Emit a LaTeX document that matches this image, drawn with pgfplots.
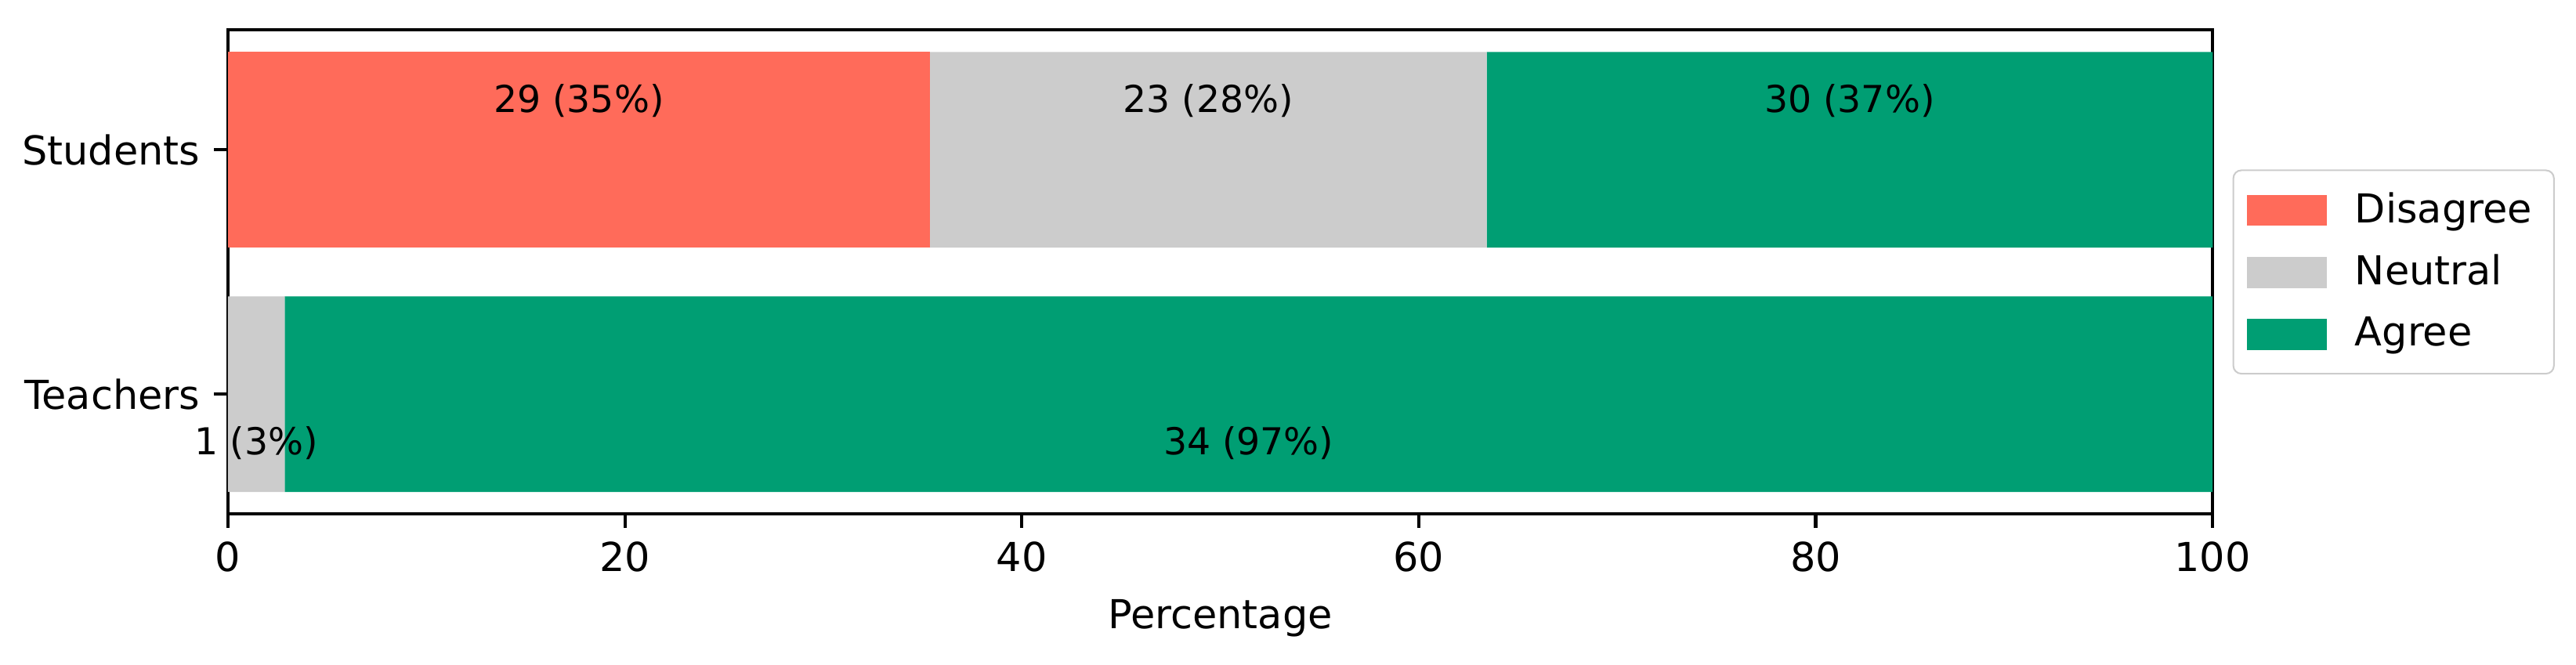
\documentclass[border=0pt]{standalone}
\usepackage{fontspec}
\setmainfont{DejaVu Sans}
\usepackage{pgfplots}
\pgfplotsset{compat=1.18}

\definecolor{cDis}{HTML}{FF6B5A}
\definecolor{cNeu}{HTML}{CCCCCC}
\definecolor{cAgr}{HTML}{009E73}

\begin{document}
\begin{tikzpicture}
\begin{axis}[
    name=ax,
    xbar stacked,
    bar width=0.8,
    scale only axis,
    width=497.5pt,
    height=121.4pt,
    xmin=0, xmax=100,
    ymin=-0.49, ymax=1.49,
    ytick={0,1},
    yticklabels={Teachers,Students},
    xtick={0,20,...,100},
    xlabel={Percentage},
    tick align=outside,
    xtick pos=left,
    ytick pos=left,
    major tick length=3.5pt,
    every tick/.style={black, line width=0.8pt},
    axis line style={line width=0.8pt},
    /pgf/number format/assume math mode=true,
    ticklabel style={font=\fontsize{10}{12}\selectfont},
    label style={font=\fontsize{10}{12}\selectfont},
    clip=false,
    legend cell align=left,
    legend style={at={(1,0.5)}, anchor=west, xshift=5pt,
        draw=black!20, rounded corners=2pt,
        font=\fontsize{10}{12}\selectfont,
        row sep=2.5pt, column sep=5pt, inner sep=3.5pt},
    legend image code/.code={\draw[#1, draw=none, sharp corners] (0pt,-3.9pt) rectangle (20pt,3.9pt);},
]
% students (y=1), teachers (y=0) -- percentages
\addplot[fill=cDis, draw=none] coordinates {(35.37,1) (0,0)};
\addplot[fill=cNeu, draw=none] coordinates {(28.05,1) (2.86,0)};
\addplot[fill=cAgr, draw=none] coordinates {(36.59,1) (97.14,0)};
\legend{Disagree, Neutral, Agree}

\coordinate (s1) at (axis cs:17.68,1.2);
\coordinate (s2) at (axis cs:49.39,1.2);
\coordinate (s3) at (axis cs:81.71,1.2);
\coordinate (t2) at (axis cs:1.43,-0.2);
\coordinate (t3) at (axis cs:51.43,-0.2);
\end{axis}
% value labels drawn after the axis so they sit on top of the bars
\begin{scope}[every node/.style={font=\fontsize{9.3}{11}\selectfont}]
\node at (s1) {29 (35\%)};
\node at (s2) {23 (28\%)};
\node at (s3) {30 (37\%)};
\node at (t2) {1 (3\%)};
\node at (t3) {34 (97\%)};
\end{scope}
\path ([shift={(-57.15pt,-37.7pt)}]ax.south west) rectangle ([shift={(91.1pt,7.5pt)}]ax.north east);
\end{tikzpicture}
\end{document}
